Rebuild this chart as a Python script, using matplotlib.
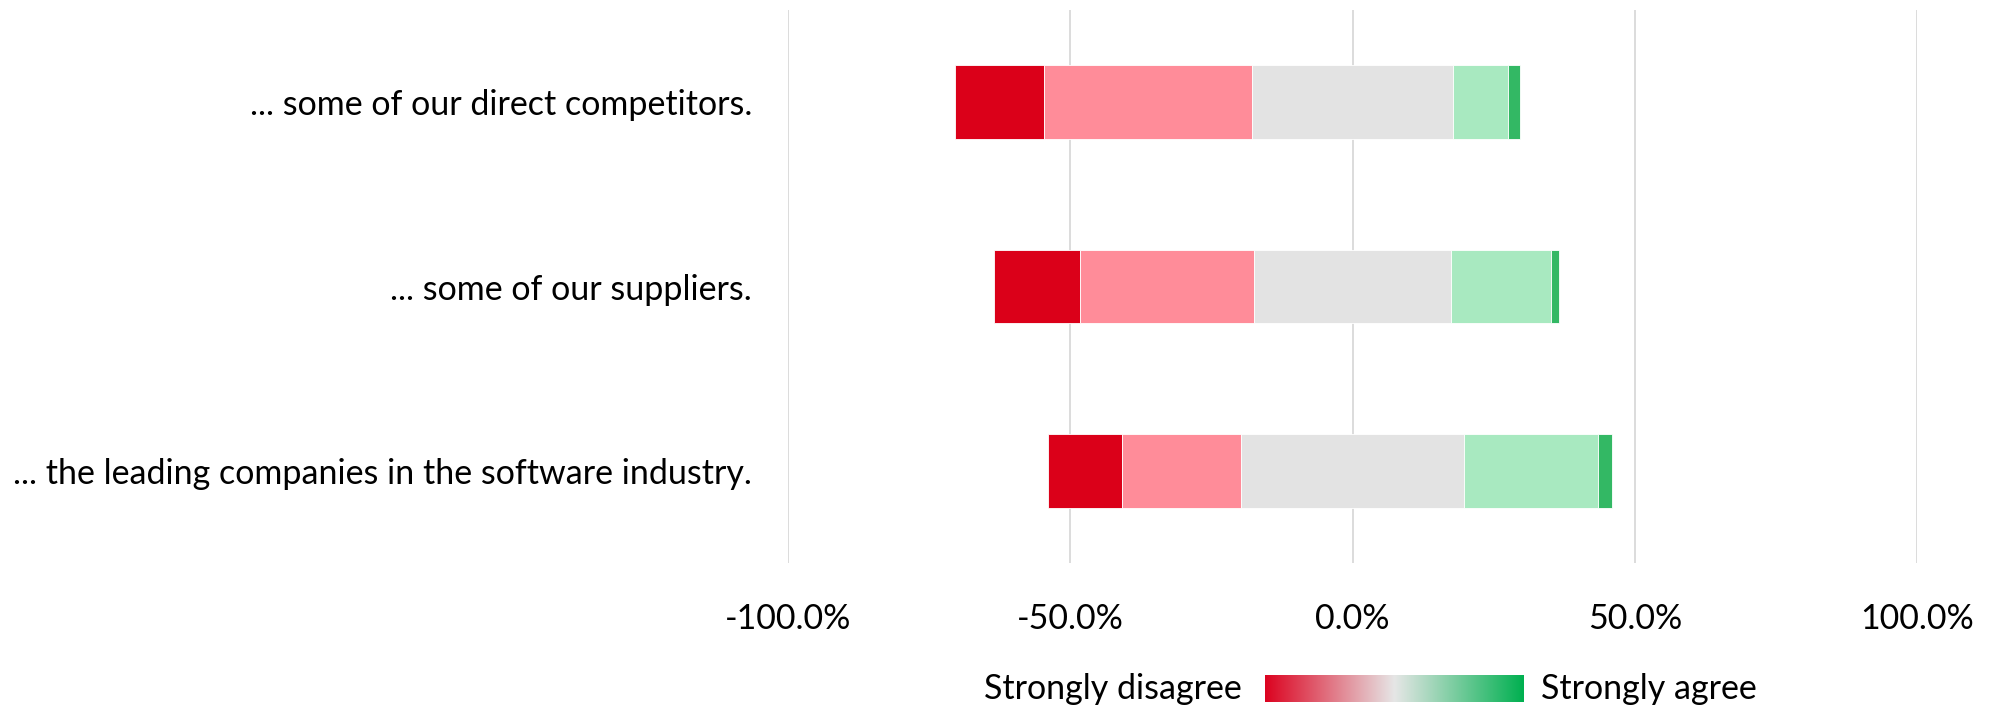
import numpy as np
import matplotlib
matplotlib.use("Agg")
import matplotlib.pyplot as plt
from matplotlib.colors import LinearSegmentedColormap

# ---- data ----
categories = ["... some of our direct competitors.",
              "... some of our suppliers.",
              "... the leading companies in the software industry."]
strongly_disagree = [15.8, 15.2, 13.1]
disagree = [36.8, 30.9, 21.1]
neutral = [35.6, 34.9, 39.5]
agree = [9.8, 17.8, 23.7]
strongly_agree = [2.0, 1.3, 2.6]
tick_values = [-100, -50, 0, 50, 100]
tick_labels = ["-100.0%", "-50.0%", "0.0%", "50.0%", "100.0%"]

colors = ["#DB0019", "#FF8C99", "#E3E3E3", "#A8E9C0", "#33B864"]

plt.rcParams['font.family'] = ['Lato', 'DejaVu Sans']
FS = 24.5

W, H = 1993, 709
fig = plt.figure(figsize=(W / 100, H / 100), dpi=100)
ax = fig.add_axes([788 / W, 1 - 563 / H, (1917 - 788) / W, (563 - 10) / H])

y = np.arange(len(categories))
sd = np.array(strongly_disagree)
d = np.array(disagree)
n = np.array(neutral)
a = np.array(agree)
sa = np.array(strongly_agree)

left = -(sd + d + n / 2)
segments = [sd, d, n, a, sa]
cur = left.copy()
for seg, col in zip(segments, colors):
    ax.barh(y, seg, left=cur, height=0.4, color=col, edgecolor="white",
            linewidth=0.6, zorder=3)
    cur = cur + seg

ax.set_xlim(-100, 100)
ax.set_ylim(len(categories) - 0.5, -0.5)
ax.set_yticks(y)
ax.set_yticklabels(categories, fontsize=FS, color="#000000")
ax.set_xticks(tick_values)
ax.set_xticklabels(tick_labels, fontsize=FS, color="#000000")
ax.tick_params(axis="both", length=0)
ax.tick_params(axis="y", pad=26)
ax.tick_params(axis="x", pad=29)
for s in ax.spines.values():
    s.set_visible(False)
ax.grid(axis="x", color="#D9D9D9", linewidth=1.3, zorder=0)
ax.set_axisbelow(True)

# ---- legend gradient ----
cmap = LinearSegmentedColormap.from_list("lg", ["#DC0320", "#E6E6E6", "#00B050"])
lax = fig.add_axes([1265 / W, 1 - 702 / H, (1524 - 1265) / W, (702 - 675) / H])
lax.imshow(np.linspace(0, 1, 256)[None, :], aspect="auto", cmap=cmap)
lax.axis("off")
fig.text(1242 / W, 1 - 689 / H, "Strongly disagree", ha="right", va="center",
         fontsize=FS, color="#000000")
fig.text(1541 / W, 1 - 689 / H, "Strongly agree", ha="left", va="center",
         fontsize=FS, color="#000000")

fig.savefig("out.png", dpi=100, facecolor="white")
